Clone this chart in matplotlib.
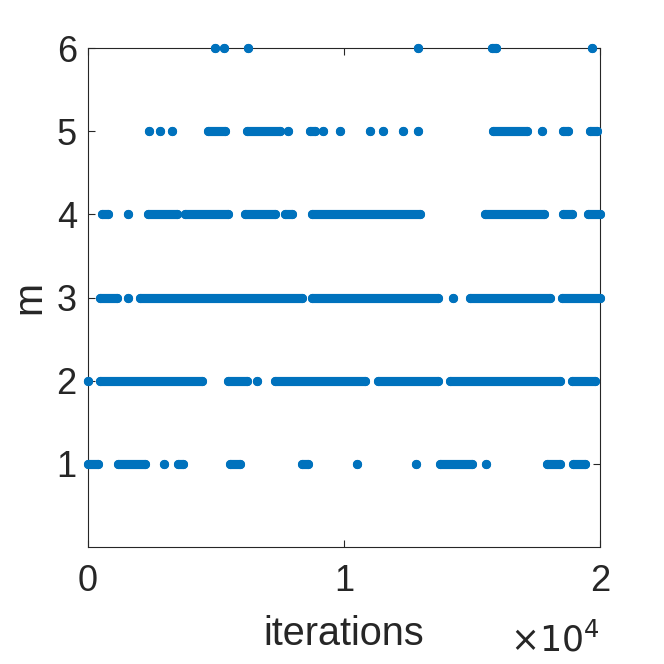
import numpy as np
import matplotlib.pyplot as plt

plt.rcParams['font.family'] = ['Liberation Sans', 'DejaVu Sans']

# runs of consecutive samples (start, end) in thousands of iterations, per value of m
runs_m1 = [(0.0, 0.4), (1.18, 2.23), (2.97, 2.97), (3.53, 3.72), (5.55, 5.94),
           (8.35, 8.6), (10.52, 10.52), (12.81, 12.81), (13.75, 14.99),
           (15.53, 15.53), (17.92, 18.44), (18.96, 19.41)]
runs_m2 = [(0.0, 0.0), (0.47, 4.44), (5.48, 6.2), (6.59, 6.59), (7.3, 10.82),
           (11.34, 13.68), (14.14, 18.44), (18.89, 19.8)]
runs_m3 = [(0.47, 1.12), (1.57, 1.57), (2.03, 8.35), (8.74, 13.68), (14.27, 14.27),
           (14.92, 18.05), (18.5, 20.0)]
runs_m4 = [(0.53, 0.79), (1.57, 1.57), (2.36, 3.46), (3.79, 5.48), (6.13, 7.3),
           (7.7, 7.96), (8.74, 12.97), (15.5, 17.8), (18.57, 18.89), (19.54, 20.0)]
runs_m5 = [(2.38, 2.38), (2.81, 2.81), (3.27, 3.27), (4.7, 5.35), (6.2, 7.5),
           (7.83, 7.83), (8.67, 8.87), (9.19, 9.19), (9.84, 9.84), (11.02, 11.02),
           (11.54, 11.54), (12.32, 12.32), (12.9, 12.9), (15.83, 17.14),
           (17.72, 17.72), (18.57, 18.76), (19.61, 19.87)]
runs_m6 = [(4.98, 4.98), (5.3, 5.3), (6.25, 6.25), (12.9, 12.9), (15.8, 15.95),
           (19.7, 19.7)]

m_values = [1, 2, 3, 4, 5, 6]
all_runs = [runs_m1, runs_m2, runs_m3, runs_m4, runs_m5, runs_m6]

col = '#0072BD'
d = 6.6  # dot size in points

fig = plt.figure(figsize=(6.64, 6.64), dpi=100)
ax = fig.add_axes([0.1325, 0.1762, 0.7711, 0.7515])

for m, runs in zip(m_values, all_runs):
    for s, e in runs:
        ax.plot([s * 1000, e * 1000], [m, m], '-o', color=col, lw=d, ms=d,
                mew=0, solid_capstyle='round', clip_on=False, zorder=3)

ax.set_xlim(0, 20000)
ax.set_ylim(0, 6)
ax.set_xticks([0, 10000, 20000])
ax.set_xticklabels(['0', '1', '2'])
ax.set_yticks([1, 2, 3, 4, 5, 6])

edge = '#262626'
for sp in ax.spines.values():
    sp.set_color(edge)
    sp.set_linewidth(0.8)
ax.tick_params(direction='in', length=5, width=0.8, colors=edge, labelsize=26,
               top=True, right=True, pad=8)
ax.tick_params(axis='x', pad=12)
for lab in ax.get_xticklabels() + ax.get_yticklabels():
    lab.set_color(edge)

ax.set_xlabel('iterations', fontsize=28.5, color=edge, labelpad=12)
ax.set_ylabel('m', fontsize=28.5, color=edge, labelpad=6)
ax.text(1.0, -0.15, r'$\times10^{4}$', transform=ax.transAxes, ha='right', va='top',
        fontsize=25, color=edge, math_fontfamily='dejavusans')

fig.savefig('out.png', dpi=100)
